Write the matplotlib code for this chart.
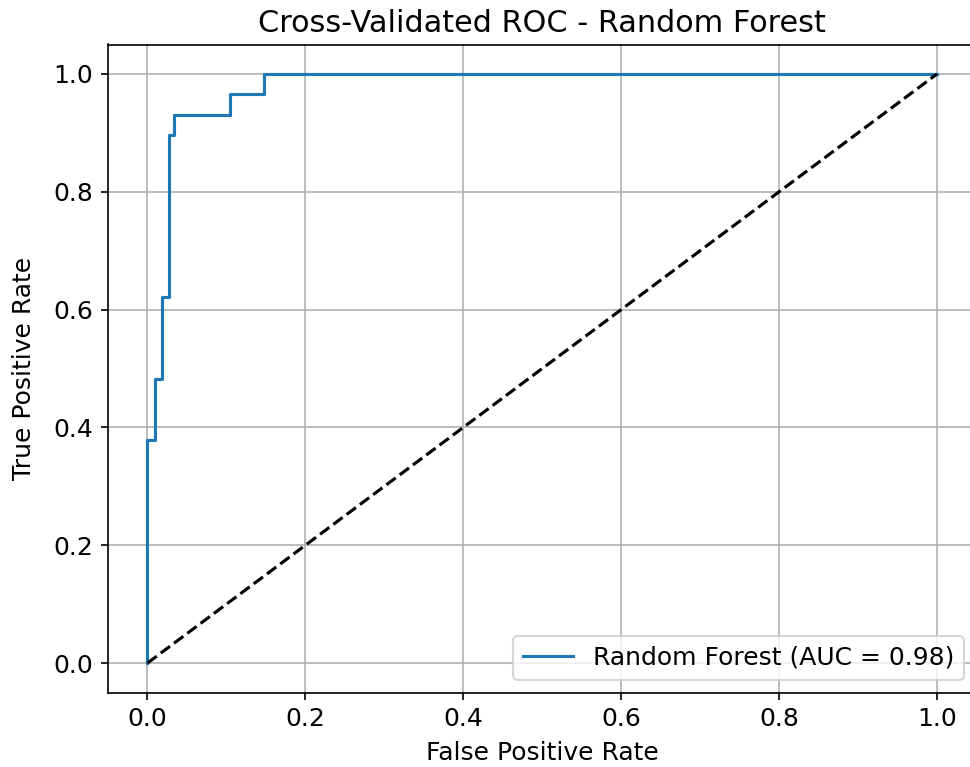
import matplotlib
matplotlib.use('Agg')
import matplotlib.pyplot as plt

# ROC steps
fpr = [0.0, 0.0, 0.009, 0.009, 0.018, 0.018, 0.027, 0.027, 0.034, 0.034,
       0.105, 0.105, 0.147, 0.147, 1.0]
tpr = [0.0, 0.379, 0.379, 0.483, 0.483, 0.621, 0.621, 0.897, 0.897, 0.931,
       0.931, 0.966, 0.966, 1.0, 1.0]
auc_value = 0.98
model_name = 'Random Forest'

plt.rcParams['font.size'] = 12

fig = plt.figure(figsize=(970 / 150, 767 / 150), dpi=150)
ax = fig.add_axes([108 / 970, 1 - 692.5 / 767, (976.5 - 108) / 970, (692.5 - 44.5) / 767])

ax.plot(fpr, tpr, color='#1f77b4', label=f'{model_name} (AUC = {auc_value:.2f})')
ax.plot([0, 1], [0, 1], 'k--')
ax.set_xlabel('False Positive Rate', labelpad=5)
ax.set_ylabel('True Positive Rate', labelpad=8.5)
ax.set_title('Cross-Validated ROC - Random Forest', fontsize=14.5)
ax.legend(loc='lower right')
ax.grid(True)

fig.savefig('out.png', dpi=150)
